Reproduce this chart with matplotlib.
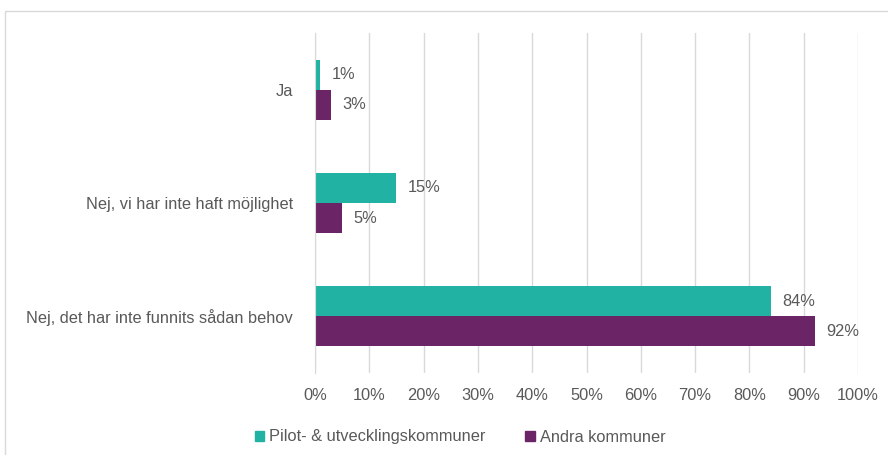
import matplotlib.pyplot as plt
import matplotlib.patches as mpatches
import numpy as np

categories = ["Ja", "Nej, vi har inte haft möjlighet", "Nej, det har inte funnits sådan behov"]
series_names = ["Pilot- & utvecklingskommuner", "Andra kommuner"]
pilot = [1, 15, 84]
andra = [3, 5, 92]
colors = ["#22B2A4", "#6B2466"]
text_color = "#595959"
fs = 11.8

plt.rcParams['font.family'] = ['Liberation Sans', 'DejaVu Sans']

fig = plt.figure(figsize=(8.88, 4.55), dpi=100)
ax = fig.add_axes([315 / 888, 1 - 373 / 455, (858 - 315) / 888, (373 - 33) / 455])

# outer chart frame
fig.patches.append(mpatches.Rectangle((5 / 888, -0.05), 1.0, 1 - 11 / 455 + 0.05,
                                      transform=fig.transFigure, fill=False,
                                      edgecolor="#D9D9D9", linewidth=1.0))

y = np.arange(len(categories))
h = 0.265
b1 = ax.barh(y - h / 2, pilot, height=h, color=colors[0], label=series_names[0])
b2 = ax.barh(y + h / 2, andra, height=h, color=colors[1], label=series_names[1])

for bars, vals in ((b1, pilot), (b2, andra)):
    for bar, v in zip(bars, vals):
        ax.text(v + 2.1, bar.get_y() + bar.get_height() / 2, f"{v}%",
                va="center", ha="left", fontsize=fs, color=text_color)

ax.set_xlim(0, 100)
ax.set_ylim(2.5, -0.5)
ax.set_xticks(np.arange(0, 101, 10))
ax.set_xticklabels([f"{t}%" for t in range(0, 101, 10)], fontsize=fs, color=text_color)
ax.set_yticks(y)
ax.set_yticklabels(categories, fontsize=fs, color=text_color)
ax.tick_params(axis="both", length=0)
ax.tick_params(axis="x", pad=11)
ax.tick_params(axis="y", pad=16)
ax.grid(axis="x", color="#D9D9D9", linewidth=1)
ax.set_axisbelow(True)
for s in ["top", "right", "bottom"]:
    ax.spines[s].set_visible(False)
ax.spines["left"].set_color("#D9D9D9")

handles = [mpatches.Patch(color=c) for c in colors]
fig.legend(handles, series_names, loc="center", bbox_to_anchor=(460 / 888, 1 - 437 / 455),
           ncol=2, frameon=False, fontsize=fs, labelcolor=text_color,
           handlelength=0.6, handleheight=0.6, handletextpad=0.3, columnspacing=2.4)

fig.savefig("out.png", dpi=100)
